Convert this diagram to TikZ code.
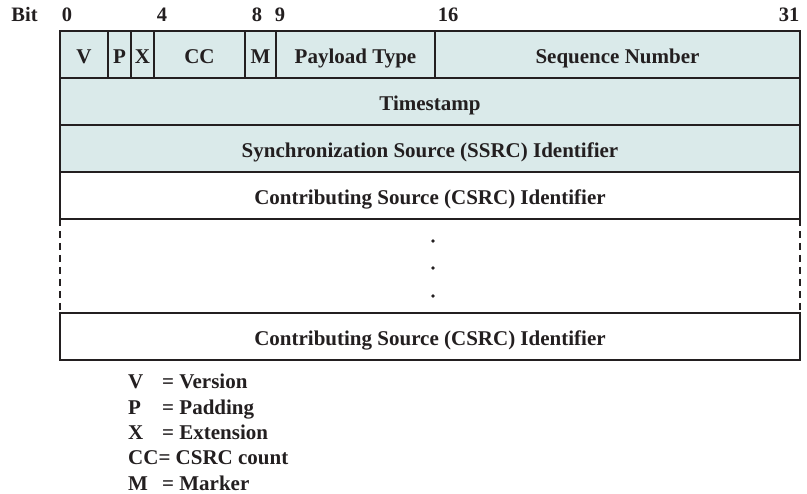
\documentclass[tikz,border=0pt]{standalone}
\usepackage{fontspec}
\setmainfont{Liberation Serif}
\usetikzlibrary{positioning}
\definecolor{hdrfill}{RGB}{218,234,234}
\definecolor{ink}{RGB}{35,31,32}

\begin{document}
\begin{tikzpicture}[
    x=1pt, y=-1pt,
    field/.style={draw=ink, line width=1.5pt, fill=hdrfill, minimum height=47pt,
                  inner sep=0pt, outer sep=0pt, anchor=north west, text=ink,
                  text height=18pt, text depth=0pt,
                  font=\bfseries\fontsize{21}{25}\selectfont},
    plain/.style={field, fill=white},
    bitno/.style={anchor=base, inner sep=0pt, text=ink,
                  font=\bfseries\fontsize{20.5}{24}\selectfont},
    legend/.style={anchor=base west, inner sep=0pt, text=ink,
                   font=\bfseries\fontsize{21}{25}\selectfont},
    dots/.style={circle, fill=ink, inner sep=0pt, minimum size=3.6pt},
    gap/.style={draw=ink, line width=1.5pt, dash pattern=on 7pt off 5pt}
]
\useasboundingbox (0,0) rectangle (807,494);

\node[bitno] (bitlbl) at (24.5,22) {Bit};
\node[bitno] (b0) at (67,22) {0};
\node[bitno] (b4) at (162,22) {4};
\node[bitno] (b8) at (257,22) {8};
\node[bitno] (b9) at (280,22) {9};
\node[bitno] (b16) at (448,22) {16};
\node[bitno] (b31) at (789,22) {31};

\node[field, minimum width=48pt] (v) at (60,31) {V};
\node[field, minimum width=23pt, right=0pt of v] (p) {P};
\node[field, minimum width=23pt, right=0pt of p] (x) {X};
\node[field, minimum width=91pt, right=0pt of x] (cc) {CC};
\node[field, minimum width=31pt, right=0pt of cc] (m) {M};
\node[field, minimum width=159pt, right=0pt of m] (pt) {Payload Type};
\node[field, minimum width=365pt, right=0pt of pt] (seq) {Sequence Number};

\node[field, minimum width=740pt] (ts) at (v.south west) {Timestamp};
\node[field, minimum width=740pt] (ssrc) at (ts.south west) {Synchronization Source (SSRC) Identifier};
\node[plain, minimum width=740pt] (csrc1) at (ssrc.south west) {Contributing Source (CSRC) Identifier};
\node[plain, minimum width=740pt] (csrc2) at (60,313) {Contributing Source (CSRC) Identifier};

\draw[gap] (csrc1.south west) -- (csrc2.north west);
\draw[gap] (csrc1.south east) -- (csrc2.north east);
\foreach \yy in {241,268,296}
    \node[dots] at (433,\yy) {};

\node[legend] (lv) at (128,389) {V};
\node[legend] (lvt) at (162,389) {= Version};
\node[legend] (lp) at (128,414.3) {P};
\node[legend] (lpt) at (162,414.3) {= Padding};
\node[legend] (lx) at (128,439.6) {X};
\node[legend] (lxt) at (162,439.6) {= Extension};
\node[legend] (lcc) at (128,464.9) {CC= CSRC count};
\node[legend] (lm) at (128,490.2) {M};
\node[legend] (lmt) at (162,490.2) {= Marker};

\end{tikzpicture}
\end{document}
